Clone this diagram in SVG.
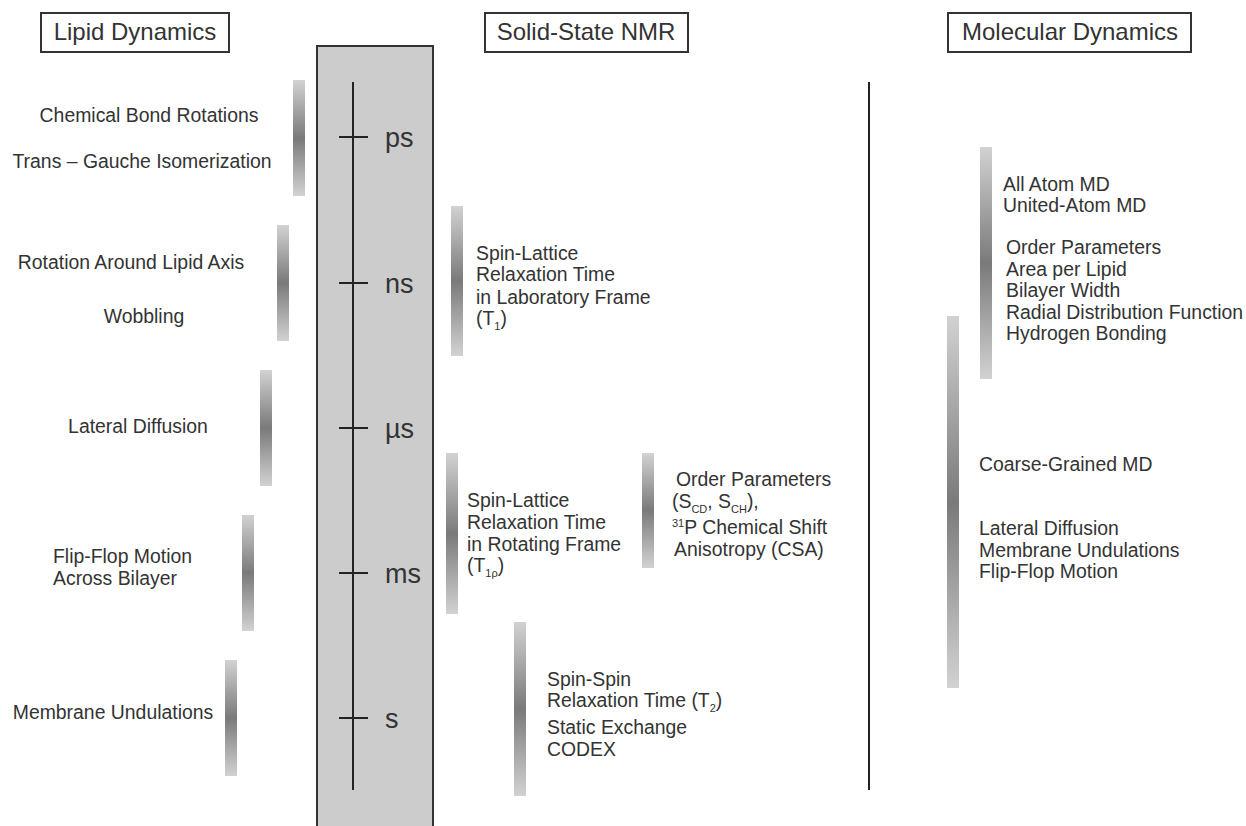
<svg xmlns="http://www.w3.org/2000/svg" width="1246" height="826" viewBox="0 0 1246 826">
<defs>
<linearGradient id="bar" x1="0" y1="0" x2="0" y2="1">
<stop offset="0" stop-color="#d2d2d2"/>
<stop offset="0.5" stop-color="#7a7a7a"/>
<stop offset="1" stop-color="#d2d2d2"/>
</linearGradient>
<style>
text{font-family:"Liberation Sans",Arial,sans-serif;fill:#333;}
.t{font-size:19.4px;}
.h{font-size:24px;}
.u{font-size:27px;}
.sub{font-size:11px;}
.box{fill:#fff;stroke:#333;stroke-width:2;}
.bar{fill:url(#bar);}
.ln{stroke:#222;stroke-width:2;fill:none;}
</style>
</defs>
<rect width="1246" height="826" fill="#fff"/>

<g id="title-lipid"><rect class="box" x="41" y="13" width="188" height="39"/><text class="h" x="135" y="40" text-anchor="middle">Lipid Dynamics</text></g>
<g id="title-nmr"><rect class="box" x="485" y="13" width="203" height="39"/><text class="h" x="586" y="40" text-anchor="middle">Solid-State NMR</text></g>
<g id="title-md"><rect class="box" x="948" y="13" width="243" height="39"/><text class="h" x="1070" y="40" text-anchor="middle">Molecular Dynamics</text></g>

<g id="timescale">
<rect x="317" y="46" width="116" height="790" fill="#cccccc" stroke="#333" stroke-width="2"/>
<line class="ln" x1="353" y1="82" x2="353" y2="790"/>
<line class="ln" x1="339" y1="137" x2="368" y2="137"/>
<line class="ln" x1="339" y1="283" x2="368" y2="283"/>
<line class="ln" x1="339" y1="428" x2="368" y2="428"/>
<line class="ln" x1="339" y1="573" x2="368" y2="573"/>
<line class="ln" x1="339" y1="718" x2="368" y2="718"/>
<text class="u" x="385" y="147">ps</text>
<text class="u" x="385" y="293">ns</text>
<text class="u" x="385" y="438">µs</text>
<text class="u" x="385" y="583">ms</text>
<text class="u" x="385" y="728">s</text>
</g>

<g id="divider"><line class="ln" x1="869" y1="82" x2="869" y2="790"/></g>

<g id="lipid-1"><rect class="bar" x="293" y="80" width="12" height="116"/>
<text class="t" x="149" y="122" text-anchor="middle">Chemical Bond Rotations</text>
<text class="t" x="142" y="168" text-anchor="middle">Trans – Gauche Isomerization</text></g>
<g id="lipid-2"><rect class="bar" x="277" y="225" width="12" height="116"/>
<text class="t" x="131" y="269" text-anchor="middle">Rotation Around Lipid Axis</text>
<text class="t" x="144" y="323" text-anchor="middle">Wobbling</text></g>
<g id="lipid-3"><rect class="bar" x="260" y="370" width="12" height="116"/>
<text class="t" x="138" y="433" text-anchor="middle">Lateral Diffusion</text></g>
<g id="lipid-4"><rect class="bar" x="242" y="515" width="12" height="116"/>
<text class="t" x="53" y="563">Flip-Flop Motion</text>
<text class="t" x="53" y="585">Across Bilayer</text></g>
<g id="lipid-5"><rect class="bar" x="225" y="660" width="12" height="116"/>
<text class="t" x="113" y="719" text-anchor="middle">Membrane Undulations</text></g>

<g id="nmr-t1"><rect class="bar" x="451" y="206" width="12" height="150"/>
<text class="t" x="476" y="260">Spin-Lattice</text>
<text class="t" x="476" y="281">Relaxation Time</text>
<text class="t" x="476" y="304">in Laboratory Frame</text>
<text class="t" x="476" y="325">(T<tspan class="sub" dy="5">1</tspan><tspan dy="-5">)</tspan></text></g>
<g id="nmr-t1rho"><rect class="bar" x="446" y="453" width="12" height="161"/>
<text class="t" x="467" y="507">Spin-Lattice</text>
<text class="t" x="467" y="529">Relaxation Time</text>
<text class="t" x="467" y="551">in Rotating Frame</text>
<text class="t" x="467" y="572">(T<tspan class="sub" dy="5">1ρ</tspan><tspan dy="-5">)</tspan></text></g>
<g id="nmr-order"><rect class="bar" x="642" y="453" width="12" height="115"/>
<text class="t" x="676" y="486"> Order Parameters</text>
<text class="t" x="672" y="508">(S<tspan class="sub" dy="5">CD</tspan><tspan dy="-5">, S</tspan><tspan class="sub" dy="5">CH</tspan><tspan dy="-5">),</tspan></text>
<text class="t" x="672" y="534"><tspan class="sub" dy="-7">31</tspan><tspan dy="7">P Chemical Shift</tspan></text>
<text class="t" x="674" y="556">Anisotropy (CSA)</text></g>
<g id="nmr-t2"><rect class="bar" x="514" y="622" width="12" height="174"/>
<text class="t" x="547" y="686">Spin-Spin</text>
<text class="t" x="547" y="707">Relaxation Time (T<tspan class="sub" dy="5">2</tspan><tspan dy="-5">)</tspan></text>
<text class="t" x="547" y="734">Static Exchange</text>
<text class="t" x="547" y="756">CODEX</text></g>

<g id="md-atomistic"><rect class="bar" x="980" y="147" width="12" height="232"/>
<text class="t" x="1003" y="191">All Atom MD</text>
<text class="t" x="1003" y="212">United-Atom MD</text>
<text class="t" x="1006" y="254">Order Parameters</text>
<text class="t" x="1006" y="276">Area per Lipid</text>
<text class="t" x="1006" y="297">Bilayer Width</text>
<text class="t" x="1006" y="319">Radial Distribution Function</text>
<text class="t" x="1006" y="340">Hydrogen Bonding</text></g>
<g id="md-cg"><rect class="bar" x="947" y="316" width="12" height="372"/>
<text class="t" x="979" y="471">Coarse-Grained MD</text>
<text class="t" x="979" y="535">Lateral Diffusion</text>
<text class="t" x="979" y="557">Membrane Undulations</text>
<text class="t" x="979" y="578">Flip-Flop Motion</text></g>
</svg>
